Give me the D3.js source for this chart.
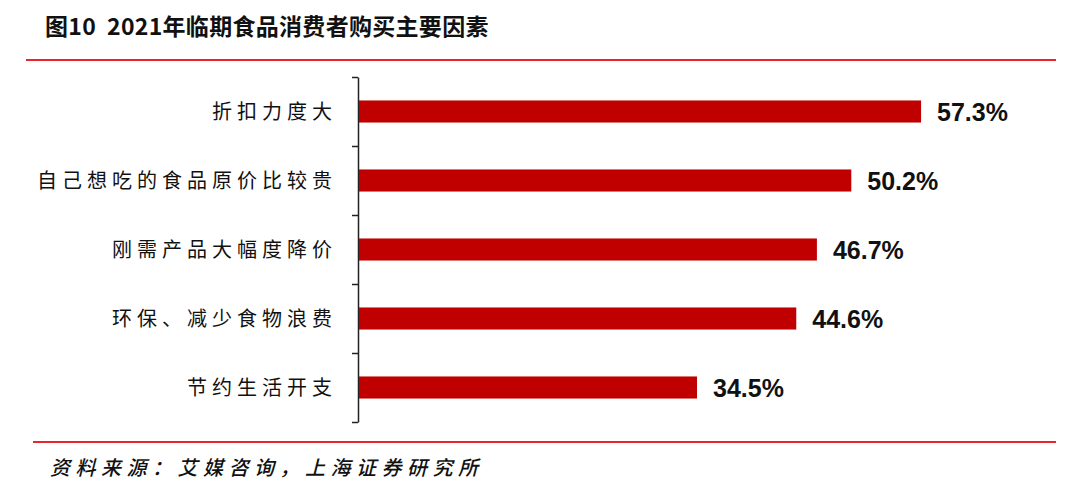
<!DOCTYPE html>
<html>
<head>
<meta charset="utf-8">
<script src="https://cdn.jsdelivr.net/npm/d3@7"></script>
<style>
body { margin: 0; background: #fff; }
svg { display: block; }
</style>
</head>
<body>
<div class="c_chart"></div>
<script>
/* DATA
------------------------------------------------------
*/
const categories = ["折扣力度大", "自己想吃的食品原价比较贵", "刚需产品大幅度降价", "环保、减少食物浪费", "节约生活开支"];
const values = [57.3, 50.2, 46.7, 44.6, 34.5];
const title = "图10  2021年临期食品消费者购买主要因素";
const source = "资料来源：艾媒咨询，上海证券研究所";

/* SVG
------------------------------------------------------
*/
const width = 1080;
const height = 481;
const svg = d3.select(".c_chart").append("svg")
	.attr("width", width)
	.attr("height", height);

const cjk = "'Noto Sans CJK SC', sans-serif";

// title + red rules
svg.append("text")
	.attr("x", 45).attr("y", 35)
	.attr("font-family", cjk).attr("font-size", 23).attr("font-weight", 700)
	.attr("letter-spacing", 0.3)
	.style("white-space", "pre")
	.attr("fill", "#111")
	.text(title);

svg.append("line")
	.attr("x1", 26).attr("x2", 1056).attr("y1", 60).attr("y2", 60)
	.attr("stroke", "#e8262d").attr("stroke-width", 2);

svg.append("line")
	.attr("x1", 33).attr("x2", 1056).attr("y1", 442).attr("y2", 442)
	.attr("stroke", "#e8262d").attr("stroke-width", 2);

svg.append("text")
	.attr("x", 50).attr("y", 475)
	.attr("font-family", cjk).attr("font-size", 20).attr("font-style", "italic")
	.attr("font-weight", 500).attr("letter-spacing", 5.5)
	.attr("fill", "#111")
	.text(source);

/* SCALES
------------------------------------------------------
*/
const plotTop = 77, plotBottom = 422, plotLeft = 358;

const y = d3.scaleBand()
	.domain(categories)
	.range([plotTop, plotBottom])
	.paddingInner(0.68)
	.paddingOuter(0.34);

const x = d3.scaleLinear()
	.domain([0, 60])
	.range([plotLeft, plotLeft + 589.6]);

// boundaries between categories, for the tick marks
const yEdge = d3.scaleLinear().domain([0, categories.length]).range([plotTop, plotBottom]);

const axis = svg.append("g")
	.attr("transform", `translate(${plotLeft},0)`)
	.call(d3.axisLeft(yEdge).tickValues(d3.range(categories.length + 1)).tickSize(6).tickSizeOuter(0).tickFormat(""));
axis.selectAll("path, line").attr("stroke", "#222").attr("stroke-width", 1.5);

/* BARS
------------------------------------------------------
*/
const rows = categories.map((c, i) => ({cat: c, val: values[i]}));

svg.append("g").selectAll("rect")
	.data(rows)
	.enter().append("rect")
	.attr("x", x(0) + 1)
	.attr("y", d => y(d.cat))
	.attr("width", d => x(d.val) - x(0) - 1)
	.attr("height", y.bandwidth())
	.attr("fill", "#c00000");

svg.append("g").selectAll("text")
	.data(rows)
	.enter().append("text")
	.attr("x", d => x(d.val) + 16)
	.attr("y", d => y(d.cat) + y.bandwidth() / 2)
	.attr("dy", "0.36em")
	.attr("font-family", "'Liberation Sans', Arial, sans-serif")
	.attr("font-size", 25).attr("font-weight", 700)
	.attr("fill", "#111")
	.text(d => d.val.toFixed(1) + "%");

svg.append("g").selectAll("text")
	.data(rows)
	.enter().append("text")
	.attr("x", 337)
	.attr("y", d => y(d.cat) + y.bandwidth() / 2)
	.attr("dy", "0.36em")
	.attr("text-anchor", "end")
	.attr("font-family", cjk)
	.attr("font-size", 20).attr("letter-spacing", 5)
	.attr("fill", "#111")
	.text(d => d.cat);
</script>
</body>
</html>
